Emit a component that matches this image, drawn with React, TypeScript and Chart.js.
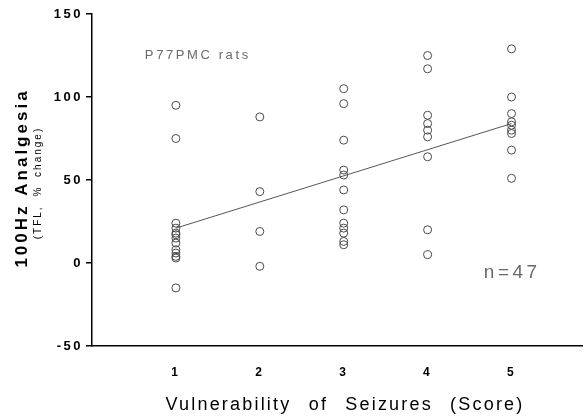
import React, { useEffect, useRef } from 'react';
import { Chart, registerables } from 'chart.js';

Chart.register(...registerables);

// Vulnerability of seizures score (x categories)
const scores = [1, 2, 3, 4, 5];
// 100Hz analgesia (TFL, % change) per score
const analgesiaScore1 = [95, 75, 24, 21, 18, 17, 15, 12, 8, 6, 4, 3, -15];
const analgesiaScore2 = [88, 43, 19, -2];
const analgesiaScore3 = [105, 96, 74, 56, 53, 44, 32, 24, 21, 18, 13, 11];
const analgesiaScore4 = [125, 117, 89, 84, 80, 76, 64, 20, 5];
const analgesiaScore5 = [129, 100, 90, 85, 83, 80, 78, 68, 51];
// regression line end points
const fitX = [1, 5];
const fitY = [21, 84];
const yTickValues = [-50, 0, 50, 100, 150];
const xTickLabels = ['1', '2', '3', '4', '5'];
const groupLabel = 'P77PMC rats';
const nLabel = 'n=47';
const xTitle = 'Vulnerability of Seizures (Score)';
const yTitle = '100Hz Analgesia';
const ySubTitle = '(TFL, % change)';

const groups = [analgesiaScore1, analgesiaScore2, analgesiaScore3, analgesiaScore4, analgesiaScore5];

export default function App() {
  const ref = useRef<HTMLCanvasElement>(null);
  useEffect(() => {
    const points: { x: number; y: number }[] = [];
    groups.forEach((g, i) => g.forEach((v) => points.push({ x: scores[i], y: v })));
    const fit = fitX.map((x, i) => ({ x, y: fitY[i] }));

    const textPlugin = {
      id: 'texts',
      beforeDraw(chart: any) {
        chart.ctx.letterSpacing = '2.5px';
      },
      afterDraw(chart: any) {
        const ctx = chart.ctx;
        const ca = chart.chartArea;
        const xs = chart.scales.x;
        const ys = chart.scales.y;
        ctx.save();
        // annotations
        ctx.fillStyle = '#6a6a6a';
        ctx.textBaseline = 'middle';
        ctx.textAlign = 'left';
        ctx.font = '13px "Liberation Sans"';
        ctx.letterSpacing = '2.6px';
        ctx.fillText(groupLabel, xs.getPixelForValue(0.63), ys.getPixelForValue(125));
        ctx.font = '19px "Liberation Sans"';
        ctx.letterSpacing = '3.5px';
        ctx.fillText(nLabel, xs.getPixelForValue(4.67), ys.getPixelForValue(-6));
        // x title
        ctx.fillStyle = '#000';
        ctx.textAlign = 'center';
        ctx.font = '18px "Liberation Sans"';
        ctx.letterSpacing = '2.2px';
        (ctx as any).wordSpacing = '10px';
        ctx.fillText(xTitle, (ca.left + ca.right) / 2 + 8, 405);
        (ctx as any).wordSpacing = '0px';
        // y titles
        ctx.save();
        ctx.translate(22, (ca.top + ca.bottom) / 2 - 2);
        ctx.rotate(-Math.PI / 2);
        ctx.font = 'bold 17px "Liberation Sans"';
        ctx.letterSpacing = '3px';
        ctx.fillText(yTitle, 0, 0);
        ctx.restore();
        ctx.save();
        ctx.translate(38, (ca.top + ca.bottom) / 2 + 3);
        ctx.rotate(-Math.PI / 2);
        ctx.font = '10px "Liberation Sans"';
        ctx.letterSpacing = '2px';
        (ctx as any).wordSpacing = '4px';
        ctx.fillText(ySubTitle, 0, 0);
        ctx.restore();
        ctx.restore();
        ctx.letterSpacing = '0px';
      },
    };

    const chart = new Chart(ref.current as HTMLCanvasElement, {
      type: 'scatter',
      data: {
        datasets: [
          {
            data: points,
            showLine: false,
            pointRadius: 4,
            pointBorderWidth: 1,
            pointBorderColor: '#4a4a4a',
            pointBackgroundColor: 'rgba(0,0,0,0)',
          },
          {
            data: fit,
            showLine: true,
            pointRadius: 0,
            borderColor: '#555',
            borderWidth: 1,
          },
        ],
      },
      options: {
        animation: false,
        responsive: false,
        devicePixelRatio: 1,
        layout: { padding: { top: 14, right: 1, left: 0, bottom: 0 } },
        plugins: { legend: { display: false }, tooltip: { enabled: false } },
        scales: {
          x: {
            type: 'linear',
            min: 0,
            max: 5.84,
            afterBuildTicks: (s: any) => {
              s.ticks = scores.map((v) => ({ value: v }));
            },
            ticks: {
              color: '#000',
              padding: 19,
              font: { family: 'Liberation Sans', weight: 'bold', size: 12 },
              callback: (v: any) => xTickLabels[scores.indexOf(v)] ?? '',
            },
            grid: { drawOnChartArea: false, drawTicks: false },
            border: { color: '#000', width: 1.5 },
            afterFit: (s: any) => {
              s.height = 74;
            },
          },
          y: {
            min: -50,
            max: 150,
            afterBuildTicks: (s: any) => {
              s.ticks = yTickValues.map((v) => ({ value: v }));
            },
            ticks: {
              color: '#000',
              padding: 3,
              font: { family: 'Liberation Sans', weight: 'bold', size: 13 },
            },
            grid: { drawOnChartArea: false, drawTicks: true, tickLength: 6, color: '#000', lineWidth: 1.5 },
            border: { color: '#000', width: 1.5 },
            afterFit: (s: any) => {
              s.width = 92;
            },
          },
        },
      },
      plugins: [textPlugin],
    });
    return () => chart.destroy();
  }, []);
  return (
    <div style={{ position: 'absolute', left: 0, top: 0, width: 587, height: 420, background: '#fff' }}>
      <canvas ref={ref} width={587} height={420} />
    </div>
  );
}
